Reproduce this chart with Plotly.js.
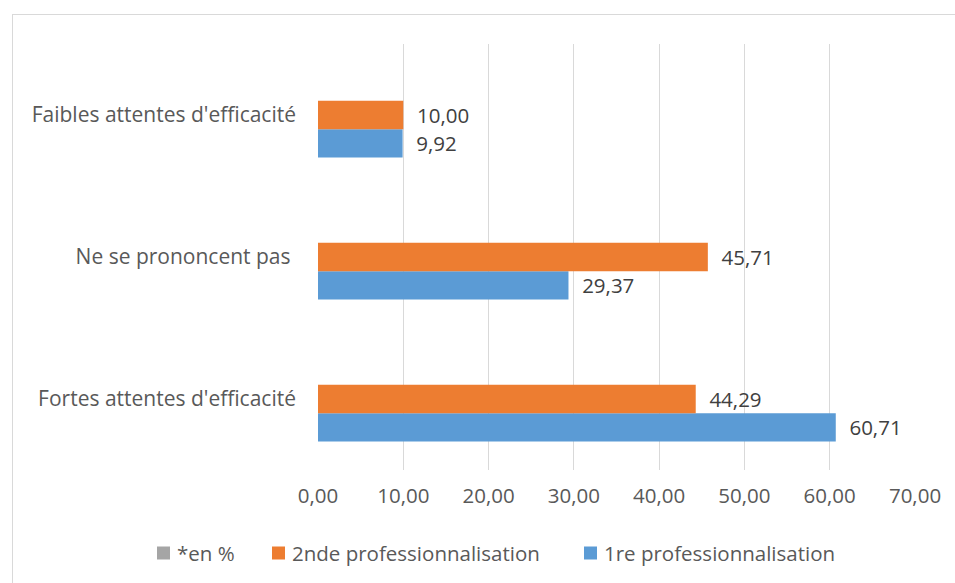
<!DOCTYPE html>
<html>
<head>
<meta charset="utf-8">
<script src="https://cdn.plot.ly/plotly-3.0.1.min.js"></script>
<style>
html,body{margin:0;padding:0;background:#fff;overflow:hidden;}
#frame{position:absolute;left:12px;top:14px;width:1000px;height:700px;border:1px solid #d9d9d9;box-sizing:border-box;}
#chart{position:absolute;left:0;top:0;width:955px;height:583px;}
</style>
</head>
<body>
<div id="frame"></div>
<div id="chart"></div>
<script>
// Categories (bottom to top as drawn)
const categories = ["Fortes attentes d'efficacité", "Ne se prononcent pas", "Faibles attentes d'efficacité"];
const categoryLabels = ["Fortes attentes d'efficacité", "Ne se prononcent pas\u00a0", "Faibles attentes d'efficacité"];
// Series values
const premiere = [60.71, 29.37, 9.92];   // 1re professionnalisation
const seconde  = [44.29, 45.71, 10.00];  // 2nde professionnalisation
const enPct    = [null, null, null];     // *en %
const xTicks   = [0, 10, 20, 30, 40, 50, 60, 70];
// Legend entries (left to right)
const legendNames  = ["*en %", "2nde professionnalisation", "1re professionnalisation"];
const legendColors = ["#a5a5a5", "#ed7d31", "#5b9bd5"];

const fmt = v => (v == null ? "" : "\u00a0\u00a0" + v.toFixed(2).replace(".", ","));
const FONT = "'Open Sans', Lato, sans-serif";
const FS = 20.5;

const W = 955, H = 583, ML = 318, MR = 40, MT = 44, MB = 113;
const PW = W - ML - MR, PH = H - MT - MB;
const px2x = p => (p - ML) / PW;
const px2y = p => (H - MB - p) / PH;

const traces = [
  {type: "bar", orientation: "h", name: "1re professionnalisation", y: categories, x: premiere,
   marker: {color: "#5b9bd5"}, text: premiere.map(fmt), textposition: "outside", cliponaxis: false,
   textfont: {family: FONT, size: FS, color: "#404040"}, hoverinfo: "x+y"},
  {type: "bar", orientation: "h", name: "2nde professionnalisation", y: categories, x: seconde,
   marker: {color: "#ed7d31"}, text: seconde.map(fmt), textposition: "outside", cliponaxis: false,
   textfont: {family: FONT, size: FS, color: "#404040"}, hoverinfo: "x+y"},
  {type: "bar", orientation: "h", name: "*en %", y: categories, x: enPct,
   marker: {color: "#a5a5a5"}, hoverinfo: "x+y"}
];

// Custom legend (positions in pixels converted to paper coords)
const legSquareLeft = [157, 272, 584];
const legY = 553, SQ = 13;
const shapes = legendNames.map((n, i) => ({
  type: "rect", xref: "paper", yref: "paper",
  x0: px2x(legSquareLeft[i]), x1: px2x(legSquareLeft[i] + SQ),
  y0: px2y(legY - SQ / 2), y1: px2y(legY + SQ / 2),
  fillcolor: legendColors[i], line: {width: 0}
}));
const annotations = legendNames.map((n, i) => ({
  xref: "paper", yref: "paper", x: px2x(legSquareLeft[i] + SQ + 5), y: px2y(legY),
  xanchor: "left", yanchor: "middle", showarrow: false, text: n,
  font: {family: FONT, size: FS, color: "#595959"}
}));

const layout = {
  width: W, height: H,
  margin: {l: ML, r: MR, t: MT, b: MB},
  paper_bgcolor: "rgba(0,0,0,0)", plot_bgcolor: "rgba(0,0,0,0)",
  font: {family: FONT, size: FS, color: "#595959"},
  barmode: "group", bargap: 0.4, bargroupgap: 0,
  showlegend: false,
  shapes: shapes, annotations: annotations,
  xaxis: {range: [0, 70], tickvals: xTicks, tickformat: ".2f", showgrid: true, gridcolor: "#d9d9d9", gridwidth: 1,
          zeroline: false, showline: false, ticks: "", automargin: false, ticklabelstandoff: 11,
          tickfont: {family: FONT, size: FS, color: "#595959"}},
  yaxis: {type: "category", categoryorder: "array", categoryarray: categories,
          tickvals: categories, ticktext: categoryLabels,
          showgrid: false, zeroline: false, showline: false, ticks: "", automargin: false, ticklabelstandoff: 21,
          tickfont: {family: FONT, size: 21, color: "#595959"}},
  separators: ", "
};

Plotly.newPlot("chart", traces, layout, {displayModeBar: false, staticPlot: true});
</script>
</body>
</html>
